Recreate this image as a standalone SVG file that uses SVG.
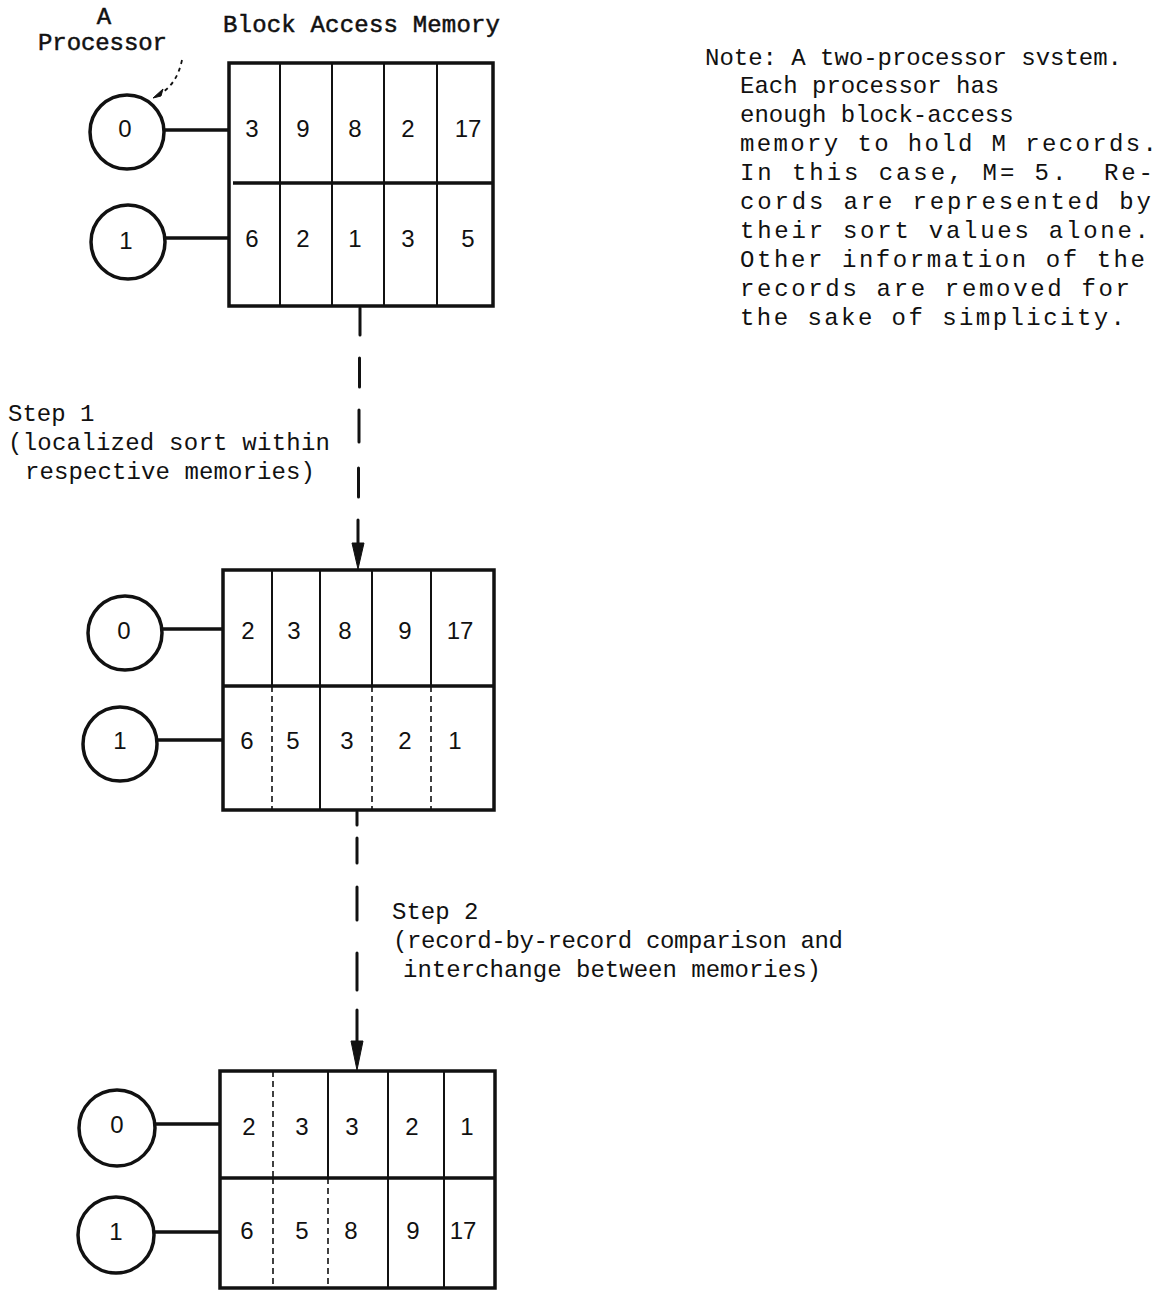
<svg xmlns="http://www.w3.org/2000/svg" width="1171" height="1293" viewBox="0 0 1171 1293">
<style>
.t{font-family:"Liberation Mono","DejaVu Sans Mono",monospace;font-size:24px;fill:#111;}
.b{stroke:#111;stroke-width:0.5px;}
.d{font-family:"Liberation Sans",Arial,sans-serif;font-size:24px;fill:#111;text-anchor:middle;}
.box{fill:none;stroke:#111;stroke-width:3.5;}
.mid{stroke:#111;stroke-width:3.5;fill:none;}
.col{stroke:#111;stroke-width:2;fill:none;}
.dot{stroke:#111;stroke-width:1.6;fill:none;stroke-dasharray:6 4;}
.cir{fill:none;stroke:#111;stroke-width:3.5;}
.lnk{stroke:#111;stroke-width:3.5;fill:none;}
.con{stroke:#111;stroke-width:3;fill:none;stroke-linecap:round;}
.ah{fill:#111;stroke:#111;stroke-width:1;}
</style>
<rect width="1171" height="1293" fill="#fff"/>

<g id="labels">
<text class="t b" x="104" y="24" text-anchor="middle">A</text>
<text class="t b" x="38" y="50" textLength="129">Processor</text>
<text class="t b" x="223" y="32" textLength="277">Block Access Memory</text>
</g>

<g id="note">
<text class="t" x="705" y="65" textLength="417">Note: A two-processor svstem.</text>
<text class="t" x="740" y="93">Each processor has</text>
<text class="t" x="740" y="122">enough block-access</text>
<text class="t" x="740" y="151" textLength="417">memory to hold M records.</text>
<text class="t" x="740" y="180" textLength="413" xml:space="preserve">In this case, M= 5.  Re-</text>
<text class="t" x="740" y="209" textLength="411">cords are represented by</text>
<text class="t" x="740" y="238" textLength="409">their sort values alone.</text>
<text class="t" x="740" y="267" textLength="405">Other information of the</text>
<text class="t" x="740" y="296" textLength="390">records are removed for</text>
<text class="t" x="740" y="325" textLength="385">the sake of simplicity.</text>
</g>

<g id="step1-label">
<text class="t" x="8" y="421">Step 1</text>
<text class="t" x="8" y="450" textLength="322">(localized sort within</text>
<text class="t" x="25" y="479" textLength="290">respective memories)</text>
</g>

<g id="step2-label">
<text class="t" x="392" y="919">Step 2</text>
<text class="t" x="393" y="948" textLength="450">(record-by-record comparison and</text>
<text class="t" x="403" y="977" textLength="418">interchange between memories)</text>
</g>

<g id="processor-pointer">
<path d="M182,60 Q177,84 160,94" fill="none" stroke="#111" stroke-width="1.8" stroke-dasharray="4 4"/>
<path class="ah" d="M153,98 L163,89 L161,96 Z"/>
</g>

<g id="block1">
<rect class="box" x="229" y="63" width="264" height="243"/>
<line class="mid" x1="233" y1="183" x2="493" y2="183"/>
<line class="col" x1="280" y1="63" x2="280" y2="306"/>
<line class="col" x1="332" y1="63" x2="332" y2="306"/>
<line class="col" x1="384" y1="63" x2="384" y2="306"/>
<line class="col" x1="437" y1="63" x2="437" y2="306"/>
<text class="d" x="252" y="137">3</text>
<text class="d" x="303" y="137">9</text>
<text class="d" x="355" y="137">8</text>
<text class="d" x="408" y="137">2</text>
<text class="d" x="468" y="137">17</text>
<text class="d" x="252" y="247">6</text>
<text class="d" x="303" y="247">2</text>
<text class="d" x="355" y="247">1</text>
<text class="d" x="408" y="247">3</text>
<text class="d" x="468" y="247">5</text>
</g>
<g id="p0-a">
<circle class="cir" cx="127" cy="132" r="37"/>
<text class="d" x="125" y="137">0</text>
<line class="lnk" x1="165" y1="130" x2="229" y2="130"/>
</g>
<g id="p1-a">
<circle class="cir" cx="128" cy="242" r="37"/>
<text class="d" x="126" y="249">1</text>
<line class="lnk" x1="166" y1="238" x2="229" y2="238"/>
</g>

<g id="block2">
<rect class="box" x="223" y="570" width="271" height="240"/>
<line class="mid" x1="223" y1="686" x2="494" y2="686"/>
<line class="col" x1="272" y1="570" x2="272" y2="686"/>
<line class="col" x1="320" y1="570" x2="320" y2="810"/>
<line class="col" x1="372" y1="570" x2="372" y2="686"/>
<line class="col" x1="431" y1="570" x2="431" y2="686"/>
<line class="dot" x1="272" y1="686" x2="272" y2="810"/>
<line class="dot" x1="372" y1="686" x2="372" y2="810"/>
<line class="dot" x1="431" y1="686" x2="431" y2="810"/>
<text class="d" x="248" y="639">2</text>
<text class="d" x="294" y="639">3</text>
<text class="d" x="345" y="639">8</text>
<text class="d" x="405" y="639">9</text>
<text class="d" x="460" y="639">17</text>
<text class="d" x="247" y="749">6</text>
<text class="d" x="293" y="749">5</text>
<text class="d" x="347" y="749">3</text>
<text class="d" x="405" y="749">2</text>
<text class="d" x="455" y="749">1</text>
</g>
<g id="p0-b">
<circle class="cir" cx="125" cy="633" r="37"/>
<text class="d" x="124" y="639">0</text>
<line class="lnk" x1="163" y1="629" x2="223" y2="629"/>
</g>
<g id="p1-b">
<circle class="cir" cx="120" cy="744" r="37"/>
<text class="d" x="120" y="749">1</text>
<line class="lnk" x1="158" y1="740" x2="223" y2="740"/>
</g>

<g id="block3">
<rect class="box" x="220" y="1071" width="275" height="217"/>
<line class="mid" x1="220" y1="1178" x2="495" y2="1178"/>
<line class="dot" x1="273" y1="1071" x2="273" y2="1178"/>
<line class="dot" x1="273" y1="1178" x2="273" y2="1288" stroke-dasharray="4 14"/>
<line class="col" x1="328" y1="1071" x2="328" y2="1178" stroke-width="2.6"/>
<line class="dot" x1="328" y1="1178" x2="328" y2="1288"/>
<line class="col" x1="388" y1="1071" x2="388" y2="1288"/>
<line class="col" x1="444" y1="1071" x2="444" y2="1288"/>
<text class="d" x="249" y="1135">2</text>
<text class="d" x="302" y="1135">3</text>
<text class="d" x="352" y="1135">3</text>
<text class="d" x="412" y="1135">2</text>
<text class="d" x="467" y="1135">1</text>
<text class="d" x="247" y="1239">6</text>
<text class="d" x="302" y="1239">5</text>
<text class="d" x="351" y="1239">8</text>
<text class="d" x="413" y="1239">9</text>
<text class="d" x="463" y="1239">17</text>
</g>
<g id="p0-c">
<circle class="cir" cx="117" cy="1128" r="38"/>
<text class="d" x="117" y="1133">0</text>
<line class="lnk" x1="155" y1="1124" x2="220" y2="1124"/>
</g>
<g id="p1-c">
<circle class="cir" cx="116" cy="1235" r="38"/>
<text class="d" x="116" y="1240">1</text>
<line class="lnk" x1="154" y1="1232" x2="220" y2="1232"/>
</g>

<g id="connectors">
<path class="con" d="M360,308 L360,335 M359.5,358 L359.5,387 M359,410 L359,442 M358.5,468 L358.5,497 M358,520 L358,548"/>
<path class="ah" d="M352,543 L364,543 L358,569 Z"/>
<path class="con" d="M357,812 L357,825 M357,838 L357,863 M357,887 L357,920 M357,953 L357,990 M357,1010 L357,1045"/>
<path class="ah" d="M351,1041 L363,1041 L357,1070 Z"/>
</g>
</svg>
